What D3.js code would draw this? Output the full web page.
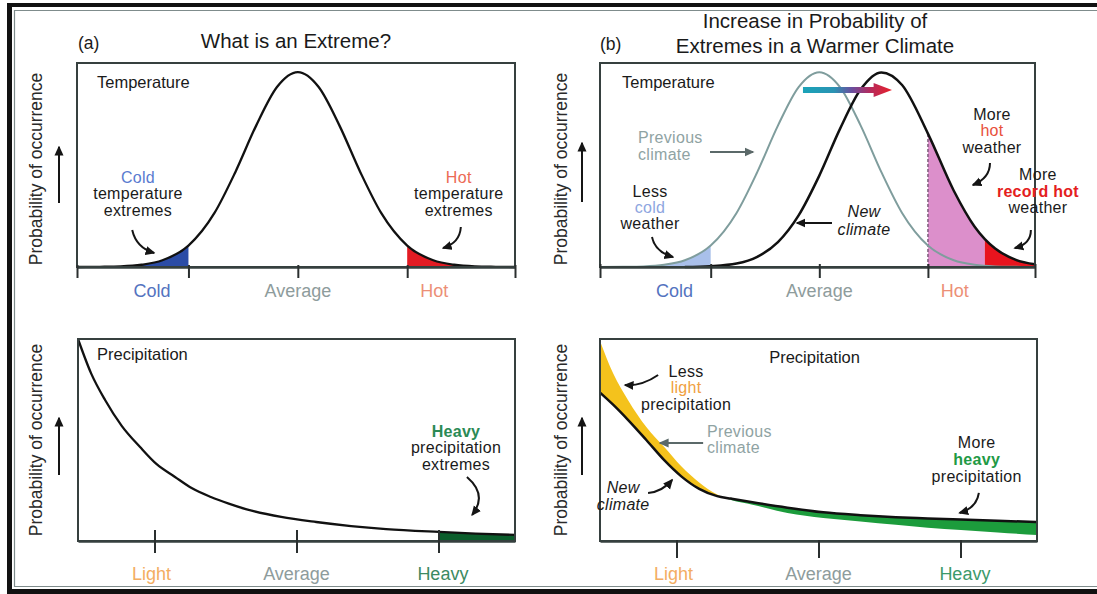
<!DOCTYPE html>
<html>
<head>
<meta charset="utf-8">
<script src="https://cdn.jsdelivr.net/npm/d3@7"></script>
<style>
  html, body { margin: 0; padding: 0; background: #fff; }
  svg { display: block; font-family: "Liberation Sans", Arial, Helvetica, sans-serif; }
</style>
</head>
<body>
<svg id="chart" width="1097" height="594"></svg>
<script>
// ---------------- data ----------------
// Temperature: x in standard deviations from the (previous) mean, y relative probability
const tempX       = [-4.24, -3.8, -3.4, -3.0, -2.6, -2.1, -1.6, -1.2, -0.8, -0.4, 0, 0.4, 0.8, 1.2, 1.6, 2.1, 2.6, 3.0, 3.4, 3.8, 4.17];
const tempCurrent = [0.000, 0.001, 0.003, 0.011, 0.033, 0.105, 0.265, 0.465, 0.693, 0.882, 0.955, 0.882, 0.693, 0.465, 0.265, 0.105, 0.033, 0.011, 0.003, 0.001, 0.000];
const tempNewX    = [-2.6, -2.1, -1.6, -1.2, -0.8, -0.4, 0, 0.4, 0.8, 1.2, 1.6, 2.1, 2.6, 3.0, 3.2, 3.4, 3.8, 4.17];
const tempNew     = [0.000, 0.004, 0.017, 0.050, 0.122, 0.253, 0.448, 0.677, 0.871, 0.954, 0.892, 0.654, 0.374, 0.199, 0.137, 0.091, 0.035, 0.013];
const tempTicks    = [-2.1, 0, 2.1];
const tempLabels   = ["Cold", "Average", "Hot"];
const tempLabelPos = [-2.8, 0, 2.62];
const coldLimit = -2.1, hotLimit = 2.1, recordHotLimit = 3.2;

// Precipitation: x in arbitrary intensity units, y relative probability
const precipX       = [0, 0.3, 0.62, 1.0, 1.42, 1.8, 2.22, 2.6, 3.04, 3.45, 3.84, 4.65, 5.45, 6.25, 7.05, 8.26, 9.1, 10];
const precipCurrent = [1.0, 0.83, 0.698, 0.57, 0.465, 0.38, 0.317, 0.262, 0.218, 0.185, 0.158, 0.119, 0.094, 0.074, 0.059, 0.045, 0.037, 0.030];
const precipShiftX   = [0, 0.3, 0.64, 1.06, 1.47, 1.86, 2.27, 2.68, 3.0, 3.49, 4.29, 5.11, 5.96, 6.77, 7.5, 8.26, 9.1, 10];
const precipPrevious = [0.99, 0.83, 0.698, 0.564, 0.465, 0.37, 0.29, 0.230, 0.203, 0.180, 0.139, 0.114, 0.097, 0.080, 0.066, 0.054, 0.042, 0.030];
const precipNew      = [0.735, 0.675, 0.60, 0.50, 0.40, 0.32, 0.258, 0.222, 0.210, 0.192, 0.165, 0.142, 0.128, 0.118, 0.112, 0.106, 0.100, 0.094];
const precipTicks    = [1.75, 5, 8.25];
const precipLabels   = ["Light", "Average", "Heavy"];
const precipLabelPos = [1.68, 5, 8.35];
const heavyLimit = 8.26, lightCrossing = 2.85;

// ---------------- layout & style ----------------
const FRAME = "#36403f";
const NOTE_SIZE = 16;
const BOX = {
  aTop: { x0: 77,  x1: 515,  y0: 63,  y1: 267 },
  bTop: { x0: 600, x1: 1035, y0: 63,  y1: 267 },
  aBot: { x0: 78,  x1: 515,  y0: 339, y1: 541 },
  bBot: { x0: 600, x1: 1037, y0: 339, y1: 541 }
};
const TEMP_DOMAIN = [-4.24, 4.17];
const PRECIP_DOMAIN = [0, 10];

const svg = d3.select("#chart");
const defs = svg.append("defs");

function marker(id, color) {
  defs.append("marker").attr("id", id).attr("viewBox", "0 0 10 10")
    .attr("refX", 8.5).attr("refY", 5).attr("markerWidth", 10).attr("markerHeight", 10)
    .attr("markerUnits", "userSpaceOnUse").attr("orient", "auto")
    .append("path").attr("d", "M0,0.5L10,5L0,9.5Z").attr("fill", color);
}
marker("head-black", "#151515");
marker("head-gray", "#5b6969");

// outer double border
svg.append("rect").attr("x", 7).attr("y", 3).attr("width", 1090).attr("height", 4).attr("fill", "#111");
svg.append("rect").attr("x", 7).attr("y", 3).attr("width", 5).attr("height", 591).attr("fill", "#111");
svg.append("rect").attr("x", 7).attr("y", 589).attr("width", 1090).attr("height", 5).attr("fill", "#111");
svg.append("path").attr("d", "M1097,10.5H14.5V586.5H1097").attr("fill", "none")
  .attr("stroke", "#7f8c8c").attr("stroke-width", 1.2);

// titles
svg.append("text").attr("x", 78).attr("y", 49).attr("font-size", 17.5).attr("fill", "#1a1a1a").text("(a)");
svg.append("text").attr("x", 296).attr("y", 48).attr("font-size", 20.5).attr("text-anchor", "middle").attr("fill", "#1a1a1a").text("What is an Extreme?");
svg.append("text").attr("x", 600).attr("y", 50).attr("font-size", 17.5).attr("fill", "#1a1a1a").text("(b)");
svg.append("text").attr("x", 815).attr("y", 28).attr("font-size", 20.5).attr("text-anchor", "middle").attr("fill", "#1a1a1a").text("Increase in Probability of");
svg.append("text").attr("x", 815).attr("y", 53).attr("font-size", 20.5).attr("text-anchor", "middle").attr("fill", "#1a1a1a").text("Extremes in a Warmer Climate");

// ---------------- helpers ----------------
function panel(p, xDomain) {
  return {
    p,
    g: svg.append("g"),
    x: d3.scaleLinear().domain(xDomain).range([p.x0, p.x1]),
    y: d3.scaleLinear().domain([0, 1]).range([p.y1, p.y0])
  };
}
const pairs = (xs, ys) => xs.map((v, i) => [v, ys[i]]);

let clipCount = 0;
function clipSpan(P, a, b) {
  const id = "span" + (clipCount++);
  defs.append("clipPath").attr("id", id).append("rect")
    .attr("x", P.x(a)).attr("width", P.x(b) - P.x(a))
    .attr("y", P.p.y0).attr("height", P.p.y1 - P.p.y0);
  return `url(#${id})`;
}
function fillUnder(P, data, a, b, color) {
  const area = d3.area().curve(d3.curveMonotoneX)
    .x(d => P.x(d[0])).y0(P.y(0)).y1(d => P.y(d[1]));
  P.g.append("path").datum(data).attr("d", area).attr("fill", color).attr("clip-path", clipSpan(P, a, b));
}
function fillBetween(P, xs, lower, upper, a, b, color) {
  const area = d3.area().curve(d3.curveMonotoneX)
    .x(d => P.x(d.x)).y0(d => P.y(d.lo)).y1(d => P.y(d.hi));
  const data = xs.map((x, i) => ({ x, lo: lower[i], hi: upper[i] }));
  P.g.append("path").datum(data).attr("d", area).attr("fill", color).attr("clip-path", clipSpan(P, a, b));
}
function curveLine(P, data, color, width) {
  const line = d3.line().curve(d3.curveMonotoneX).x(d => P.x(d[0])).y(d => P.y(d[1]));
  P.g.append("path").datum(data).attr("d", line).attr("fill", "none")
    .attr("stroke", color).attr("stroke-width", width).attr("stroke-linejoin", "round");
}
function frame(P, tickVals, up, down, labelPos, labels, colors, labelY, title) {
  const p = P.p;
  P.g.append("rect").attr("x", p.x0).attr("y", p.y0).attr("width", p.x1 - p.x0).attr("height", p.y1 - p.y0)
    .attr("fill", "none").attr("stroke", FRAME).attr("stroke-width", 2);
  const ax = P.g.append("g").attr("transform", `translate(0,${p.y1})`)
    .call(d3.axisBottom(P.x).tickValues(tickVals).tickSize(down).tickSizeOuter(0).tickFormat(""));
  ax.select(".domain").attr("stroke", FRAME).attr("stroke-width", 2.4);
  ax.selectAll(".tick text").remove();
  ax.selectAll(".tick line").attr("y1", -up).attr("stroke", "#2a2f2f").attr("stroke-width", 2);
  P.g.selectAll(null).data(labels).join("text")
    .attr("x", (d, i) => P.x(labelPos[i])).attr("y", labelY)
    .attr("text-anchor", "middle").attr("font-size", 18)
    .attr("fill", (d, i) => colors[i]).text(d => d);
  if (title) {
    P.g.append("text").attr("x", title.x).attr("y", title.y).attr("text-anchor", title.anchor || "start")
      .attr("font-size", 16.5).attr("fill", "#1a1a1a").text(title.text);
  }
}
function yLabel(cx, cy, ax, ay0, ay1) {
  svg.append("text").attr("transform", `translate(${cx},${cy}) rotate(-90)`)
    .attr("text-anchor", "middle").attr("font-size", 17.5).attr("fill", "#2a2a2a")
    .attr("dy", "0.35em").text("Probability of occurrence");
  svg.append("line").attr("x1", ax).attr("x2", ax).attr("y1", ay0).attr("y2", ay1)
    .attr("stroke", "#151515").attr("stroke-width", 2).attr("marker-end", "url(#head-black)");
}
function note(P, x, y, lines, opt = {}) {
  const t = P.g.append("text").attr("x", P.x(x)).attr("y", P.y(y))
    .attr("text-anchor", opt.anchor || "middle").attr("font-size", NOTE_SIZE)
    .attr("letter-spacing", 0.3).attr("fill", opt.color || "#1a1a1a");
  if (opt.italic) t.attr("font-style", "italic");
  lines.forEach((ln, i) => {
    const s = t.append("tspan").attr("x", P.x(x)).attr("dy", i === 0 ? 0 : (opt.lh || 16.5)).text(ln.t);
    if (ln.c) s.attr("fill", ln.c);
    if (ln.b) s.attr("font-weight", "bold");
  });
}
function pointer(P, pts, color = "#151515", head = "head-black") {
  const path = d3.path();
  const [s, c, e] = pts.length === 3 ? pts : [pts[0], null, pts[1]];
  path.moveTo(P.x(s[0]), P.y(s[1]));
  if (c) path.quadraticCurveTo(P.x(c[0]), P.y(c[1]), P.x(e[0]), P.y(e[1]));
  else path.lineTo(P.x(e[0]), P.y(e[1]));
  P.g.append("path").attr("d", path.toString()).attr("fill", "none")
    .attr("stroke", color).attr("stroke-width", 2).attr("marker-end", `url(#${head})`);
}

const TEMP_COLORS = ["#5473c0", "#8e9c9c", "#ec8f76"];
const PRECIP_COLORS_A = ["#f3ad62", "#8e9c9c", "#3c8a62"];
const PRECIP_COLORS_B = ["#f3ad62", "#8e9c9c", "#3c9a6a"];

// ---------------- (a) temperature ----------------
{
  const P = panel(BOX.aTop, TEMP_DOMAIN);
  const cur = pairs(tempX, tempCurrent);
  fillUnder(P, cur, TEMP_DOMAIN[0], coldLimit, "#2b4ca6");
  fillUnder(P, cur, hotLimit, TEMP_DOMAIN[1], "#e31b23");
  curveLine(P, cur, "#111", 2.3);
  frame(P, [TEMP_DOMAIN[0], ...tempTicks, TEMP_DOMAIN[1]], 2, 11, tempLabelPos, tempLabels, TEMP_COLORS, 297,
        { x: 97, y: 88, text: "Temperature" });
  note(P, -3.07, 0.412, [{ t: "Cold", c: "#5a7bd0" }, { t: "temperature" }, { t: "extremes" }]);
  pointer(P, [[-3.18, 0.181], [-3.10, 0.093], [-2.76, 0.069]]);
  note(P, 3.09, 0.412, [{ t: "Hot", c: "#ec6a55" }, { t: "temperature" }, { t: "extremes" }]);
  pointer(P, [[3.13, 0.196], [3.11, 0.118], [2.79, 0.093]]);
}
yLabel(36, 169, 59, 203, 147);

// ---------------- (b) temperature ----------------
{
  const P = panel(BOX.bTop, TEMP_DOMAIN);
  const prev = pairs(tempX, tempCurrent);
  const next = pairs(tempNewX, tempNew);
  fillUnder(P, prev, TEMP_DOMAIN[0], coldLimit, "#a9c0ea");
  fillUnder(P, next, hotLimit, recordHotLimit, "#dc8fcb");
  fillUnder(P, next, recordHotLimit, TEMP_DOMAIN[1], "#e8141e");
  const hotTop = tempNew[tempNewX.indexOf(hotLimit)];
  P.g.append("line").attr("x1", P.x(hotLimit)).attr("x2", P.x(hotLimit))
    .attr("y1", P.y(0)).attr("y2", P.y(hotTop))
    .attr("stroke", "#6d4d6d").attr("stroke-width", 1.3).attr("stroke-dasharray", "3,2");
  curveLine(P, prev, "#7f9d9d", 2);
  curveLine(P, next, "#111", 2.5);
  frame(P, [TEMP_DOMAIN[0], ...tempTicks, TEMP_DOMAIN[1]], 3, 11, tempLabelPos, tempLabels, TEMP_COLORS, 297,
        { x: 622, y: 88, text: "Temperature" });

  // shift arrow
  const grad = defs.append("linearGradient").attr("id", "shift").attr("gradientUnits", "userSpaceOnUse")
    .attr("x1", P.x(-0.316)).attr("x2", P.x(1.405)).attr("y1", 0).attr("y2", 0);
  [[0, "#1aa3b8"], [0.35, "#2b93b3"], [0.55, "#6a4e9e"], [0.75, "#b42b5e"], [1, "#e8202a"]]
    .forEach(([o, c]) => grad.append("stop").attr("offset", o).attr("stop-color", c));
  const ay = P.y(0.868);
  P.g.append("path")
    .attr("d", `M${P.x(-0.316)},${ay - 3}H${P.x(1.05)}V${ay - 7}L${P.x(1.405)},${ay}L${P.x(1.05)},${ay + 7}V${ay + 3}H${P.x(-0.316)}Z`)
    .attr("fill", "url(#shift)");

  note(P, -3.505, 0.608, [{ t: "Previous" }, { t: "climate" }], { anchor: "start", color: "#8fa3a3", lh: 17 });
  pointer(P, [[-2.113, 0.564], [-1.282, 0.564]], "#5b6969", "head-gray");
  note(P, -3.273, 0.343, [{ t: "Less" }, { t: "cold", c: "#8ea6e0" }, { t: "weather" }], { lh: 16 });
  pointer(P, [[-3.235, 0.147], [-3.177, 0.074], [-2.829, 0.049]]);
  note(P, 0.864, 0.245, [{ t: "New" }, { t: "climate" }], { italic: true, lh: 18 });
  pointer(P, [[0.245, 0.216], [-0.432, 0.216]]);
  note(P, 3.338, 0.721, [{ t: "More" }, { t: "hot", c: "#e8503a" }, { t: "weather" }], { lh: 16.5 });
  pointer(P, [[3.30, 0.51], [3.299, 0.436], [2.97, 0.402]]);
  note(P, 4.227, 0.426, [{ t: "More" }, { t: "record hot", c: "#e41e1e", b: true }, { t: "weather" }], { lh: 16.5 });
  pointer(P, [[4.09, 0.181], [4.092, 0.113], [3.78, 0.093]]);
}
yLabel(561, 169, 582, 202, 143);

// ---------------- (a) precipitation ----------------
{
  const P = panel(BOX.aBot, PRECIP_DOMAIN);
  const cur = pairs(precipX, precipCurrent);
  fillUnder(P, cur, heavyLimit, PRECIP_DOMAIN[1], "#0b5e2c");
  curveLine(P, cur, "#111", 2.3);
  frame(P, precipTicks, 11, 12, precipLabelPos, precipLabels, PRECIP_COLORS_A, 580,
        { x: 97, y: 360, text: "Precipitation" });
  note(P, 8.65, 0.515, [{ t: "Heavy", c: "#2b8a55", b: true }, { t: "precipitation" }, { t: "extremes" }], { lh: 16.5 });
  pointer(P, [[8.90, 0.317], [9.38, 0.228], [9.02, 0.129]]);
}
yLabel(36, 440, 59, 475, 418);

// ---------------- (b) precipitation ----------------
{
  const P = panel(BOX.bBot, PRECIP_DOMAIN);
  fillBetween(P, precipShiftX, precipNew, precipPrevious, PRECIP_DOMAIN[0], lightCrossing, "#f4c21c");
  fillBetween(P, precipShiftX, precipPrevious, precipNew, lightCrossing, PRECIP_DOMAIN[1], "#1c9c3c");
  curveLine(P, pairs(precipShiftX, precipNew), "#111", 2.5);
  frame(P, precipTicks, 1, 17, precipLabelPos, precipLabels, PRECIP_COLORS_B, 580,
        { x: P.x(4.91), y: 363, text: "Precipitation", anchor: "middle" });
  note(P, 1.97, 0.812, [{ t: "Less" }, { t: "light", c: "#f0a040" }, { t: "precipitation" }], { lh: 16.5 });
  pointer(P, [[1.33, 0.822], [0.963, 0.767], [0.573, 0.772]]);
  note(P, 2.45, 0.515, [{ t: "Previous" }, { t: "climate" }], { anchor: "start", color: "#8fa3a3", lh: 16.5 });
  pointer(P, [[2.36, 0.485], [1.376, 0.485]], "#5b6969", "head-gray");
  note(P, 0.53, 0.238, [{ t: "New" }, { t: "climate" }], { italic: true, lh: 17 });
  pointer(P, [[1.10, 0.238], [1.42, 0.243], [1.65, 0.302]]);
  note(P, 8.62, 0.46, [{ t: "More" }, { t: "heavy", c: "#1f9a45", b: true }, { t: "precipitation" }], { lh: 17 });
  pointer(P, [[8.67, 0.238], [8.62, 0.163], [8.23, 0.139]]);
}
yLabel(561, 440, 582, 475, 418);
</script>
</body>
</html>
